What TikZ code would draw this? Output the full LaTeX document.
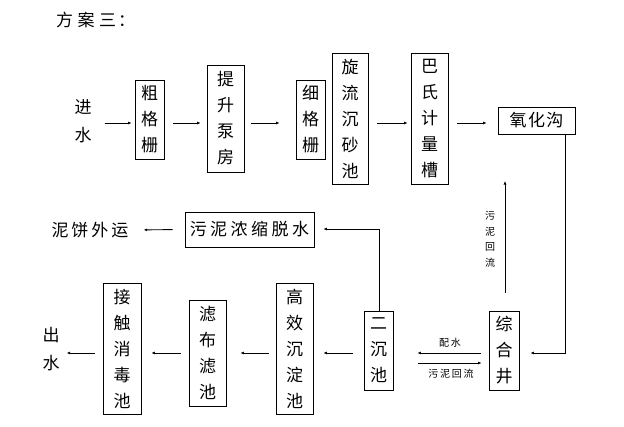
\documentclass[tikz,border=0pt]{standalone}
\usepackage{fontspec}
\setmainfont{Noto Sans CJK SC}
\usetikzlibrary{arrows.meta}
\newcommand\kk{\kern3.5pt}
\newcommand\ks{\kern1.7pt}
\begin{document}
\begin{tikzpicture}[x=1pt,y=-1pt,
  box/.style={draw, line width=0.9pt, inner sep=0pt, align=center, font=\fontsize{17}{26}\selectfont},
  lbl/.style={inner sep=0pt, align=center, font=\fontsize{17}{28}\selectfont},
  small/.style={inner sep=0pt, align=center, font=\fontsize{10}{15.5}\selectfont},
  arr/.style={line width=0.9pt, -{Latex[length=3.5pt,width=3pt]}}]
\useasboundingbox (0,0) rectangle (624,426);
% title
\node[lbl, anchor=west] (title) at (56,20) {方\kern4.5pt 案\kern4.5pt 三\kern2pt ：};
% top row
\node[lbl] (in) at (83,121) {进\\水};
\node[box, minimum width=29pt, minimum height=79pt] (c1) at (149.5,119.5) {粗\\格\\栅};
\node[box, minimum width=37pt, minimum height=107pt] (c2) at (225.5,118.5) {提\\升\\泵\\房};
\node[box, minimum width=29pt, minimum height=79pt] (c3) at (310.5,119.5) {细\\格\\栅};
\node[box, minimum width=36pt, minimum height=131pt] (c4) at (350,118.5) {旋\\流\\沉\\砂\\池};
\node[box, minimum width=37pt, minimum height=131pt] (c5) at (429.5,118.5) {巴\\氏\\计\\量\\槽};
\node[box, minimum width=77pt, minimum height=27pt] (c6) at (536.5,120.5) {氧\kern1.5pt 化\kern1.5pt 沟};
\coordinate (rowA) at (0,123);
\draw[arr, shorten <=13pt, shorten >=3pt] (in.east |- rowA) -- (c1.west |- rowA);
\draw[arr, shorten <=9pt, shorten >=6pt] (c1.east |- rowA) -- (c2.west |- rowA);
\draw[arr, shorten <=7pt, shorten >=16pt] (c2.east |- rowA) -- (c3.west |- rowA);
\draw[arr, shorten <=9pt, shorten >=3pt] (c4.east |- rowA) -- (c5.west |- rowA);
\draw[arr, shorten <=9pt, shorten >=11pt] (c5.east |- rowA) -- (c6.west |- rowA);
% sludge line
\node[lbl] (cake) at (90,230) {泥\kern3pt 饼\kern3pt 外\kern3pt 运};
\node[box, minimum width=129pt, minimum height=35pt] (sl) at (249.5,229.5) {污\kk 泥\kk 浓\kk 缩\kk 脱\kk 水};
% bottom row
\node[lbl] (out) at (51,349) {出\\水};
\node[box, minimum width=38pt, minimum height=131pt] (jc) at (122,348.5) {接\\触\\消\\毒\\池};
\node[box, minimum width=37pt, minimum height=106pt] (lb) at (207.5,353) {滤\\布\\滤\\池};
\node[box, minimum width=37pt, minimum height=131pt] (gx) at (294.5,348.5) {高\\效\\沉\\淀\\池};
\node[box, minimum width=29pt, minimum height=79pt] (ec) at (378.5,350.5) {二\\沉\\池};
\node[box, minimum width=30pt, minimum height=79pt] (zh) at (504,350.5) {综\\合\\井};
\coordinate (r1) at (565,353);
\coordinate (r2) at (0,363);
\coordinate (r3) at (379,229);
\coordinate (rt) at (505,181);
\draw[arr, shorten >=11pt] (c6.south -| r1) -- (r1) -- (zh.east |- r1);
\draw[arr, shorten <=18pt] (zh.north -| rt) -- (rt);
\draw[arr, shorten <=8pt, shorten >=24pt] (zh.west |- r1) -- (ec.east |- r1);
\draw[arr, shorten <=25pt, shorten >=7pt] (ec.east |- r2) -- (zh.west |- r2);
\draw[arr, shorten >=9pt] (ec.north -| r3) -- (r3) -- (sl.east |- r3);
\draw[arr, shorten <=12pt, shorten >=15pt] (sl.west) -- (cake.east);
\draw[arr, shorten <=11pt, shorten >=10pt] (ec.west |- r1) -- (gx.east |- r1);
\draw[arr, shorten <=7pt, shorten >=14pt] (gx.west |- r1) -- (lb.east |- r1);
\draw[arr, shorten <=8pt, shorten >=10pt] (lb.west |- r1) -- (jc.east |- r1);
\draw[arr, shorten <=8pt, shorten >=7pt] (jc.west |- r1) -- (out.east |- r1);
% labels
\node[small] (lpei) at (450,343) {配\ks 水};
\node[small] (lhui) at (451,374) {污\ks 泥\ks 回\ks 流};
\node[small] (lvert) at (490,239) {污\\泥\\回\\流};
\end{tikzpicture}
\end{document}
